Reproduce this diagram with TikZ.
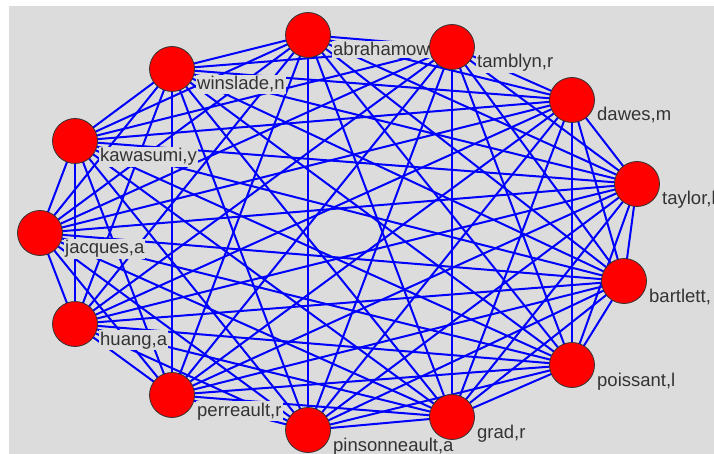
\documentclass[tikz,border=0pt]{standalone}
\usepackage{fontspec}
\newfontfamily\tagfont{Liberation Sans}
\definecolor{canvas}{RGB}{220,220,220}
\definecolor{vertexred}{RGB}{255,0,0}
\definecolor{tieblue}{RGB}{0,0,255}
\pgfdeclarelayer{background}
\pgfdeclarelayer{ties}
\pgfdeclarelayer{tags}
\pgfsetlayers{background,ties,tags,main}
\tikzset{
  vertex/.style={circle, draw=black!80, line width=0.8pt, fill=vertexred,
    minimum size=45pt, inner sep=0pt},
  tag/.style={anchor=base west, fill=canvas, inner xsep=1pt, inner ysep=1.5pt,
    text=black!80, font=\tagfont\fontsize{18.5}{20}\selectfont},
  tie/.style={draw=tieblue, line width=2pt}
}
\begin{document}
\begin{tikzpicture}[x=1pt, y=-1pt]
  \useasboundingbox (0,0) rectangle (714,454);
  \begin{pgfonlayer}{background}
    \fill [white] (0,0) rectangle (714,454);
    \fill [canvas] (9,6) rectangle (714,454);
  \end{pgfonlayer}

  \foreach \x/\y/\name [count=\i] in {308/35/{abrahamow}, 452/47/{tamblyn,r},
      572/100/{dawes,m}, 637/184/{taylor,l}, 624/281/{bartlett,},
      572/365/{poissant,l}, 452/417/{grad,r}, 308/430/{pinsonneault,a},
      172/395/{perreault,r}, 75/324/{huang,a}, 40/233/{jacques,a},
      75/141/{kawasumi,y}, 172/69/{winslade,n}} {
    \node [vertex] (vertex-\i) at (\x,\y) {};
    \begin{pgfonlayer}{tags}
      \node [tag] (tag-\i) at ([shift={(24,21)}]vertex-\i.center) {\name};
    \end{pgfonlayer}
  }

  % every pair of authors is joined
  \begin{pgfonlayer}{ties}
    \foreach \i in {1,...,12} {
      \pgfmathtruncatemacro\nxt{\i+1}
      \foreach \j in {\nxt,...,13}
        \draw [tie] (vertex-\i.center) -- (vertex-\j.center);
    }
  \end{pgfonlayer}
\end{tikzpicture}
\end{document}
